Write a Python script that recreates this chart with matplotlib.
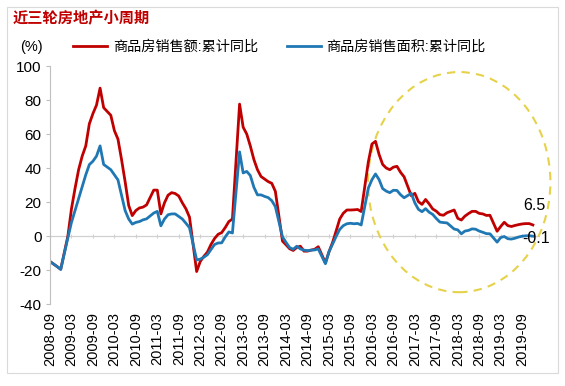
import matplotlib
matplotlib.use('Agg')
import matplotlib.pyplot as plt
from matplotlib.patches import Ellipse, Rectangle
from matplotlib.lines import Line2D

plt.rcParams['font.family'] = ['Liberation Sans', 'Noto Sans CJK SC']
plt.rcParams['axes.unicode_minus'] = False

# 月份 (1月数据与2月合并发布, 因此没有1月)
months = ['2008-09', '2008-10', '2008-11', '2008-12'] + \
    [f'{y}-{m:02d}' for y in range(2009, 2020) for m in range(2, 13)]

# 商品房销售额:累计同比 (%)
sales_value = [
    -15.0, -16.5, -18.0, -19.5,                                       # 2008
    0.0, 16.0, 28.0, 39.0, 47.0, 53.0, 66.0, 72.0, 77.0, 87.0, 75.5,  # 2009
    71.0, 62.0, 57.0, 45.0, 32.0, 18.0, 12.0, 15.0, 16.5, 17.0, 18.3, # 2010
    27.0, 27.0, 13.0, 19.5, 24.0, 25.5, 25.0, 23.5, 19.5, 16.0, 11.1, # 2011
    -20.9, -15.0, -12.0, -9.5, -5.0, -1.5, 1.0, 2.0, 5.0, 8.5, 10.0,  # 2012
    77.6, 64.0, 60.0, 53.0, 45.0, 39.0, 35.0, 33.5, 32.0, 31.0, 26.3, # 2013
    -3.0, -5.2, -7.5, -8.5, -6.7, -6.0, -8.9, -8.9, -8.3, -7.8, -6.3, # 2014
    -15.8, -9.3, -3.8, 3.0, 10.0, 13.4, 15.3, 15.3, 15.4, 15.6, 14.4, # 2015
    43.6, 54.1, 55.7, 48.0, 42.1, 40.0, 39.0, 40.5, 41.0, 37.5, 34.8, # 2016
    23.7, 25.1, 20.2, 18.6, 21.5, 18.9, 15.9, 14.6, 12.6, 12.2, 13.7, # 2017
    15.3, 10.4, 9.4, 11.7, 13.2, 14.5, 14.5, 13.3, 13.0, 12.1, 12.2,  # 2018
    2.8, 5.6, 8.1, 6.1, 5.6, 6.2, 6.7, 7.1, 7.3, 7.3, 6.5,            # 2019
]

# 商品房销售面积:累计同比 (%)
sales_area = [
    -15.0, -16.5, -18.0, -19.7,                                       # 2008
    -1.0, 8.0, 15.0, 22.0, 29.0, 36.0, 42.0, 44.0, 47.0, 53.0, 42.1,  # 2009
    39.0, 36.0, 33.0, 24.0, 15.0, 10.0, 7.0, 8.0, 8.5, 9.5, 10.1,     # 2010
    13.5, 14.5, 6.0, 10.0, 12.5, 13.0, 13.0, 11.5, 10.0, 7.5, 4.9,    # 2011
    -14.1, -13.6, -12.5, -11.0, -8.0, -5.0, -4.1, -4.0, -0.5, 2.4, 1.8,  # 2012
    49.5, 37.1, 38.0, 35.6, 28.7, 24.2, 24.2, 23.3, 22.6, 20.8, 17.3, # 2013
    -0.5, -3.8, -6.8, -7.8, -6.0, -7.6, -8.3, -8.6, -8.3, -8.2, -7.6, # 2014
    -16.3, -9.2, -4.8, -0.2, 3.9, 6.1, 7.2, 7.5, 7.2, 7.4, 6.5,       # 2015
    28.2, 33.1, 36.5, 33.2, 27.9, 26.4, 25.5, 26.9, 26.8, 24.3, 22.5, # 2016
    25.1, 19.5, 15.7, 14.3, 16.1, 14.0, 12.7, 10.3, 8.2, 7.9, 7.7,    # 2017
    4.1, 3.6, 1.3, 2.9, 3.3, 4.2, 4.0, 2.9, 2.2, 1.4, 1.3,            # 2018
    -3.6, -0.9, -0.3, -1.6, -1.8, -1.3, -0.6, -0.1, 0.1, 0.2, -0.1,   # 2019
]

series_names = ['商品房销售额:累计同比', '商品房销售面积:累计同比']
colors = ['#C00000', '#1F78B4']
yticks = [-40, -20, 0, 20, 40, 60, 80, 100]


def month_pos(s):
    y, m = s.split('-')
    return (int(y) - 2008) * 12 + int(m) - 9


x = [month_pos(s) for s in months]
tick_labels = [f'{y}-{m:02d}' for y in range(2008, 2020) for m in (3, 9)][1:]
tick_pos = [month_pos(s) for s in tick_labels]

fig = plt.figure(figsize=(5.65, 3.86), dpi=100)
ax = fig.add_axes([0.0885, 0.2124, 0.8673, 0.6166])

ax.plot(x, sales_value, color=colors[0], lw=2)
ax.plot(x, sales_area, color=colors[1], lw=2)

ax.set_xlim(0, 137)
ax.set_ylim(-40, 100)
ax.set_yticks(yticks)
ax.set_xticks(tick_pos)
ax.set_xticklabels(tick_labels, rotation=90, fontsize=10.5)
ax.tick_params(axis='x', length=0, pad=6)
ax.tick_params(axis='y', labelsize=11, length=3, color='#BFBFBF', pad=3)

for side in ['top', 'right', 'bottom']:
    ax.spines[side].set_visible(False)
ax.spines['left'].set_color('#BFBFBF')
ax.axhline(0, color='#D0D0D0', lw=0.9, zorder=0)

# 0 线上的小刻度
sec = ax.secondary_xaxis((0 - (-40)) / 140)
sec.set_xticks(tick_pos)
sec.tick_params(axis='x', length=3, color='#D0D0D0', direction='inout', labelbottom=False, labeltop=False)
sec.spines['bottom'].set_visible(False)
sec.spines['top'].set_visible(False)

# 末值标注
ax.annotate(f'{sales_value[-1]}', (x[-1], sales_value[-1]), xytext=(-7, 14),
            textcoords='offset points', fontsize=11.5, ha='left', va='center')
ax.annotate(f'{sales_area[-1]}', (x[-1], sales_area[-1]), xytext=(-8, -2),
            textcoords='offset points', fontsize=11.5, ha='left', va='center')

# 黄色虚线圈
ell = Ellipse((114.4, 31.7), 51, 129.5, fill=False, ec='#E6D24A', lw=1.5,
              ls=(0, (4, 3)), clip_on=False)
ax.add_patch(ell)

# 标题与图例
fig.text(0.022, 0.953, '近三轮房地产小周期', color='#C00000', fontsize=11,
         fontweight='bold', va='center', family=['Noto Sans CJK SC'])
fig.text(0.035, 0.878, '(%)', fontsize=10.5, va='center')
handles = [Line2D([0], [0], color=c, lw=2) for c in colors]
fig.legend(handles, series_names, loc='center left', bbox_to_anchor=(0.13, 0.878),
           ncol=2, frameon=False, fontsize=10.2, handlelength=2.4, handletextpad=0.4,
           columnspacing=2.0, borderaxespad=0, borderpad=0)

fig.patches.append(Rectangle((0.0124, 0.0337), 0.975, 0.948, transform=fig.transFigure,
                             fill=False, ec='#DADADA', lw=0.8))

fig.savefig('out.png', dpi=100)
